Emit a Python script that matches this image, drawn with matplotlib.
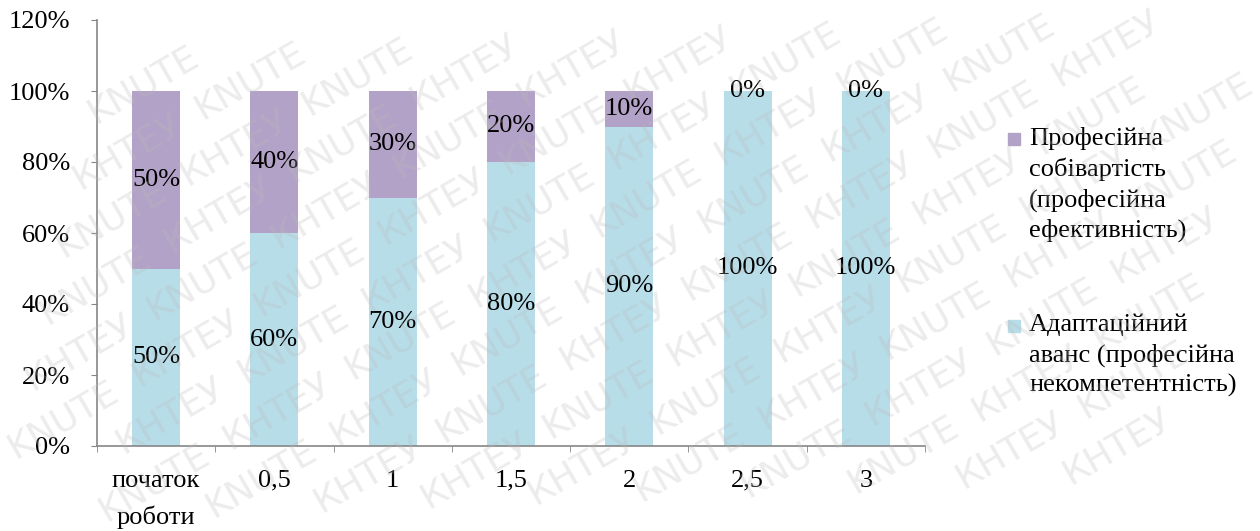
import numpy as np
import matplotlib.pyplot as plt
from matplotlib.patches import Rectangle

categories = ["початок\nроботи", "0,5", "1", "1,5", "2", "2,5", "3"]
adaptive = [50, 60, 70, 80, 90, 100, 100]      # Адаптаційний аванс
efficiency = [50, 40, 30, 20, 10, 0, 0]        # Професійна собівартість
y_ticks = [0, 20, 40, 60, 80, 100, 120]

legend_labels = [
    "Професійна\nсобівартість\n(професійна\nефективність)",
    "Адаптаційний\nаванс (професійна\nнекомпетентність)",
]

blue = "#b7dde8"
purple = "#b3a2c7"
axis_grey = "#868686"
fs = 19

plt.rcParams["font.family"] = ["Liberation Serif", "DejaVu Serif"]

fig = plt.figure(figsize=(12.6, 5.31), dpi=100)
W, H = 1260, 531
ax = fig.add_axes([97 / W, (H - 446) / H, 828 / W, 426 / H])

x = np.arange(len(categories))
bw = 0.405
b1 = ax.bar(x, adaptive, bw, color=blue, zorder=2)
b2 = ax.bar(x, efficiency, bw, bottom=adaptive, color=purple, zorder=2)

for vals, bottoms in ((adaptive, [0] * len(x)), (efficiency, adaptive)):
    for xi, v, b in zip(x, vals, bottoms):
        ax.text(xi, b + v / 2, f"{v}%", ha="center", va="center",
                fontsize=fs, color="black", zorder=4)

ax.set_xlim(-0.5, len(categories) - 0.5)
ax.set_ylim(0, 120)
ax.set_yticks(y_ticks)
ax.set_yticklabels([f"{t}%" for t in y_ticks], fontsize=fs)
ax.set_xticks(x)
ax.set_xticklabels(categories, fontsize=fs, linespacing=1.75)
ax.set_xticks(np.arange(-0.5, len(categories)), minor=True)
ax.tick_params(axis="x", which="major", length=0, pad=17)
ax.tick_params(axis="x", which="minor", length=4.5, color=axis_grey, direction="out")
ax.tick_params(axis="y", length=4.5, color=axis_grey, direction="out", pad=15)

for side in ("top", "right"):
    ax.spines[side].set_visible(False)
for side in ("left", "bottom"):
    ax.spines[side].set_color(axis_grey)
    ax.spines[side].set_linewidth(1.2)
ax.patch.set_alpha(0)

# legend drawn by hand so the marker sits on the first line of each label
for color, label, sq_top, txt_top in ((purple, legend_labels[0], 133, 127),
                                      (blue, legend_labels[1], 320, 314)):
    fig.patches.append(Rectangle((1008 / W, 1 - (sq_top + 12) / H), 12 / W, 12 / H,
                                 transform=fig.transFigure, color=color))
    fig.text(1029 / W, 1 - txt_top / H, label, fontsize=fs, ha="left", va="top",
             linespacing=1.4)

# faint diagonal watermark, word by word, kept inside the figure
ang = np.deg2rad(30)
dx, dy = np.cos(ang), np.sin(ang)
nx, ny = -np.sin(ang), np.cos(ang)
words = ["КНТЕУ", "KNUTE"]
step = 142
for k in range(-14, 15):
    for j in range(-14, 15):
        shift = (k % 3) * step / 3
        px = W / 2 + k * 50 * nx + (j * step + shift) * dx
        py = H / 2 + k * 50 * ny + (j * step + shift) * dy
        if not (56 < px < W - 56 and 40 < py < H - 40):
            continue
        fig.text(px / W, py / H, words[(j + k) % 2], rotation=30,
                 rotation_mode="anchor", ha="center", va="center", fontsize=26,
                 color="#bbbbbb", alpha=0.28, family="DejaVu Sans", zorder=10)

fig.savefig("out.png", dpi=100)
